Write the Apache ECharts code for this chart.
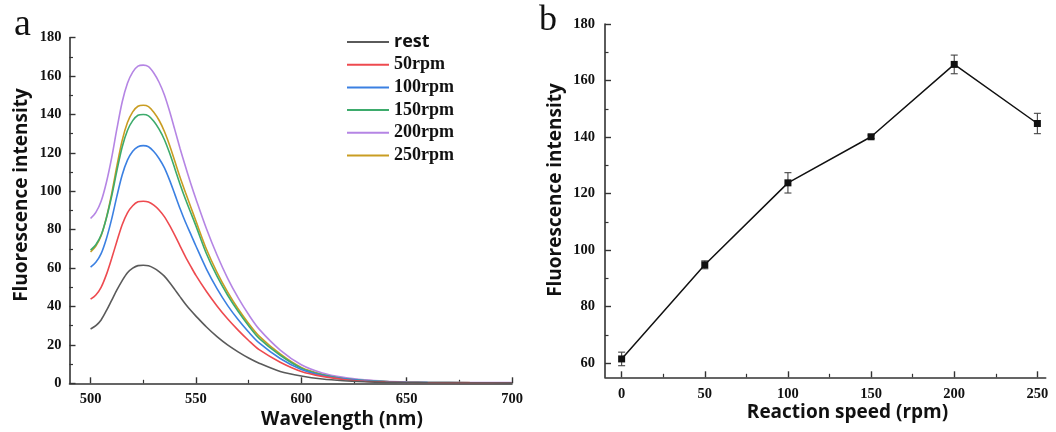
<!DOCTYPE html>
<html>
<head>
<meta charset="utf-8">
<script src="https://cdn.jsdelivr.net/npm/echarts@6/dist/echarts.min.js"></script>
<style>
  html, body { margin: 0; padding: 0; background: #fff; }
  #chart { width: 1056px; height: 432px; }
</style>
</head>
<body>
<div id="chart"></div>
<script>
// Panel a: emission spectra (nm) at each shaking speed
const wavelengths = [500, 502.5, 505, 507.5, 510, 512.5, 515, 517.5, 520, 522.5, 525, 527.5, 530, 532.5, 535, 537.5, 540, 542.5, 545, 547.5, 550, 555, 560, 565, 570, 575, 580, 590, 600, 610, 620, 630, 640, 650, 660, 680, 700];
const spectrumRest = [28.3, 30.0, 33.0, 37.8, 43.2, 48.6, 53.5, 57.6, 60.0, 61.3, 61.5, 61.2, 60.0, 58.2, 55.8, 52.5, 48.8, 45.0, 41.3, 38.0, 35.0, 29.3, 24.3, 20.0, 16.4, 13.2, 10.5, 6.2, 3.8, 2.2, 1.3, 0.8, 0.5, 0.3, 0.2, 0.15, 0.1];
const spectrum50   = [43.8, 46.0, 50.0, 56.6, 65.0, 74.0, 82.6, 88.8, 92.5, 94.5, 94.8, 94.4, 92.8, 90.3, 86.8, 82.2, 77.0, 71.5, 66.0, 61.0, 56.2, 47.8, 40.3, 33.6, 27.7, 22.3, 17.5, 11.0, 6.2, 3.6, 2.0, 1.1, 0.7, 0.45, 0.3, 0.2, 0.15];
const spectrum100  = [60.5, 63.0, 67.5, 75.3, 85.5, 97.5, 108.5, 116.2, 120.8, 123.2, 123.8, 123.2, 120.7, 117.1, 112.3, 105.8, 98.4, 90.9, 84.0, 77.8, 71.5, 59.5, 49.3, 40.6, 33.2, 26.7, 21.0, 12.9, 7.2, 4.0, 2.3, 1.3, 0.8, 0.5, 0.35, 0.25, 0.2];
const spectrum150  = [69.4, 72.2, 77.2, 86.0, 97.4, 110.8, 123.1, 131.7, 136.8, 139.6, 140.0, 139.3, 136.5, 132.4, 127.0, 119.9, 111.8, 103.6, 96.0, 89.0, 82.0, 67.5, 55.8, 46.0, 37.5, 30.0, 23.4, 14.6, 7.9, 4.4, 2.5, 1.4, 0.85, 0.55, 0.4, 0.3, 0.25];
const spectrum200  = [85.8, 89.0, 94.8, 104.6, 117.4, 132.6, 146.5, 156.3, 162.1, 165.2, 165.7, 164.9, 161.6, 156.8, 150.3, 141.7, 132.0, 122.2, 113.0, 104.2, 96.0, 80.5, 66.8, 54.8, 44.6, 35.8, 28.2, 17.3, 9.7, 5.4, 3.1, 1.8, 1.1, 0.75, 0.55, 0.4, 0.35];
const spectrum250  = [68.4, 71.5, 76.8, 86.3, 98.7, 113.2, 126.5, 135.8, 141.4, 144.3, 144.8, 144.1, 141.2, 137.0, 131.3, 124.0, 115.6, 107.2, 99.5, 92.0, 84.5, 69.8, 57.8, 47.6, 38.8, 31.2, 24.6, 15.3, 8.3, 4.7, 2.7, 1.5, 0.9, 0.6, 0.45, 0.35, 0.3];
const seriesNames  = ['rest', '50rpm', '100rpm', '150rpm', '200rpm', '250rpm'];
const seriesColors = ['#5a5a5a', '#ee4a4f', '#3b80e2', '#3dab6c', '#b585e4', '#c99d22'];
const spectra = [spectrumRest, spectrum50, spectrum100, spectrum150, spectrum200, spectrum250];

const waveTicks = [500, 550, 600, 650, 700];
const waveMinorTicks = [525, 575, 625, 675];

// Panel b: peak intensity versus reaction speed
const speeds = [0, 50, 100, 150, 200, 250];
const peakIntensity = [61.5, 94.8, 123.8, 140.1, 165.7, 144.8];
const peakError = [2.4, 1.4, 3.6, 0.6, 3.3, 3.6];
const speedTicks = [0, 50, 100, 150, 200, 250];
const speedMinorTicks = [25, 75, 125, 175, 225];
const intensityTicks = [60, 80, 100, 120, 140, 160, 180];
const intensityMinorTicks = [70, 90, 110, 130, 150, 170];

const tickFont = { fontFamily: 'Liberation Serif', fontWeight: 'bold', fontSize: 14.5, color: '#111' };
const axisLine = { show: true, onZero: false, lineStyle: { color: '#333', width: 1.6 } };
const hiddenLine = { show: false, onZero: false };
const titleFont = 'bold 19px "Open Sans"';

const chart = echarts.init(document.getElementById('chart'), null, { renderer: 'canvas' });

const spectrumSeries = spectra.map((vals, i) => ({
  name: seriesNames[i],
  type: 'line',
  xAxisIndex: 0,
  yAxisIndex: 0,
  smooth: 0.3,
  symbol: 'none',
  color: seriesColors[i],
  lineStyle: { width: 1.6, color: seriesColors[i] },
  data: wavelengths.map((w, k) => [w, vals[k]]),
  z: 10 - i
}));

const option = {
  animation: false,
  backgroundColor: '#fff',
  grid: [
    { left: 69.5, right: 544, top: 37.7, bottom: 48.7 },
    { left: 605, right: 10.3, top: 24, bottom: 54.7 }
  ],
  legend: {
    orient: 'vertical',
    left: 342,
    top: 28,
    itemWidth: 42,
    itemHeight: 2,
    itemGap: 4.7,
    icon: 'rect',
    textStyle: { fontFamily: 'Liberation Serif', fontWeight: 'bold', fontSize: 18, lineHeight: 18, color: '#111' },
    data: seriesNames.map((n, i) => i === 0
      ? { name: n, textStyle: { fontFamily: 'Open Sans', fontWeight: 'bold', fontSize: 18, lineHeight: 18, color: '#111' } }
      : { name: n })
  },
  xAxis: [
    {
      type: 'value', gridIndex: 0, min: 490, max: 700,
      axisLine: axisLine, splitLine: { show: false },
      axisTick: { show: true, inside: true, length: 6, customValues: waveTicks, lineStyle: { color: '#333', width: 1.4 } },
      axisLabel: { ...tickFont, margin: 8, customValues: waveTicks }
    },
    {
      type: 'value', gridIndex: 0, min: 490, max: 700, position: 'bottom',
      axisLine: hiddenLine, splitLine: { show: false }, axisLabel: { show: false },
      axisTick: { show: true, inside: true, length: 3.5, customValues: waveMinorTicks, lineStyle: { color: '#333', width: 1.2 } }
    },
    {
      type: 'value', gridIndex: 1, min: -10, max: 255,
      axisLine: axisLine, splitLine: { show: false },
      axisTick: { show: true, inside: true, length: 6, customValues: speedTicks, lineStyle: { color: '#333', width: 1.4 } },
      axisLabel: { ...tickFont, margin: 9, customValues: speedTicks }
    },
    {
      type: 'value', gridIndex: 1, min: -10, max: 255, position: 'bottom',
      axisLine: hiddenLine, splitLine: { show: false }, axisLabel: { show: false },
      axisTick: { show: true, inside: true, length: 3.5, customValues: speedMinorTicks, lineStyle: { color: '#333', width: 1.2 } }
    }
  ],
  yAxis: [
    {
      type: 'value', gridIndex: 0, min: 0, max: 180, interval: 20,
      axisLine: axisLine, splitLine: { show: false },
      axisTick: { show: true, inside: true, length: 6, lineStyle: { color: '#333', width: 1.4 } },
      minorTick: { show: true, splitNumber: 2, length: 3.5, lineStyle: { color: '#333', width: 1.2 } },
      axisLabel: { ...tickFont, margin: 8 }
    },
    {
      type: 'value', gridIndex: 1, min: 55, max: 180,
      axisLine: axisLine, splitLine: { show: false },
      axisTick: { show: true, inside: true, length: 6, customValues: intensityTicks, lineStyle: { color: '#333', width: 1.4 } },
      axisLabel: { ...tickFont, margin: 10, customValues: intensityTicks }
    },
    {
      type: 'value', gridIndex: 1, min: 55, max: 180, position: 'left',
      axisLine: hiddenLine, splitLine: { show: false }, axisLabel: { show: false },
      axisTick: { show: true, inside: true, length: 3.5, customValues: intensityMinorTicks, lineStyle: { color: '#333', width: 1.2 } }
    }
  ],
  series: [
    ...spectrumSeries,
    {
      name: 'peak',
      type: 'line',
      xAxisIndex: 2,
      yAxisIndex: 1,
      symbol: 'rect',
      symbolSize: 7,
      color: '#111',
      lineStyle: { color: '#111', width: 1.5 },
      itemStyle: { color: '#111' },
      data: speeds.map((s, i) => [s, peakIntensity[i]]),
      z: 5
    },
    {
      name: 'error',
      type: 'custom',
      xAxisIndex: 2,
      yAxisIndex: 1,
      data: speeds.map((s, i) => [s, peakIntensity[i] - peakError[i], peakIntensity[i] + peakError[i]]),
      encode: { x: 0, y: [1, 2] },
      renderItem: function (params, api) {
        const lo = api.coord([api.value(0), api.value(1)]);
        const hi = api.coord([api.value(0), api.value(2)]);
        const hw = 3.5;
        const style = { stroke: '#444', lineWidth: 1.1 };
        return {
          type: 'group',
          children: [
            { type: 'line', shape: { x1: lo[0], y1: lo[1], x2: hi[0], y2: hi[1] }, style: style },
            { type: 'line', shape: { x1: lo[0] - hw, y1: lo[1], x2: lo[0] + hw, y2: lo[1] }, style: style },
            { type: 'line', shape: { x1: hi[0] - hw, y1: hi[1], x2: hi[0] + hw, y2: hi[1] }, style: style }
          ]
        };
      },
      z: 4
    }
  ],
  graphic: [
    { type: 'text', x: 22.5, y: 25, style: { text: 'a', font: '38px "Liberation Serif"', fill: '#111', textAlign: 'center', textVerticalAlign: 'middle' } },
    { type: 'text', x: 548, y: 21, style: { text: 'b', font: '36px "Liberation Serif"', fill: '#111', textAlign: 'center', textVerticalAlign: 'middle' } },
    { type: 'text', x: 342, y: 420, style: { text: 'Wavelength (nm)', font: titleFont, fill: '#111', textAlign: 'center', textVerticalAlign: 'middle' } },
    { type: 'text', x: 847.5, y: 413, style: { text: 'Reaction speed (rpm)', font: titleFont, fill: '#111', textAlign: 'center', textVerticalAlign: 'middle' } },
    { type: 'text', x: 22, y: 195, rotation: Math.PI / 2, style: { text: 'Fluorescence intensity', font: titleFont, fill: '#111', textAlign: 'center', textVerticalAlign: 'middle' } },
    { type: 'text', x: 556, y: 190, rotation: Math.PI / 2, style: { text: 'Fluorescence intensity', font: titleFont, fill: '#111', textAlign: 'center', textVerticalAlign: 'middle' } }
  ]
};

chart.setOption(option);
</script>
</body>
</html>
